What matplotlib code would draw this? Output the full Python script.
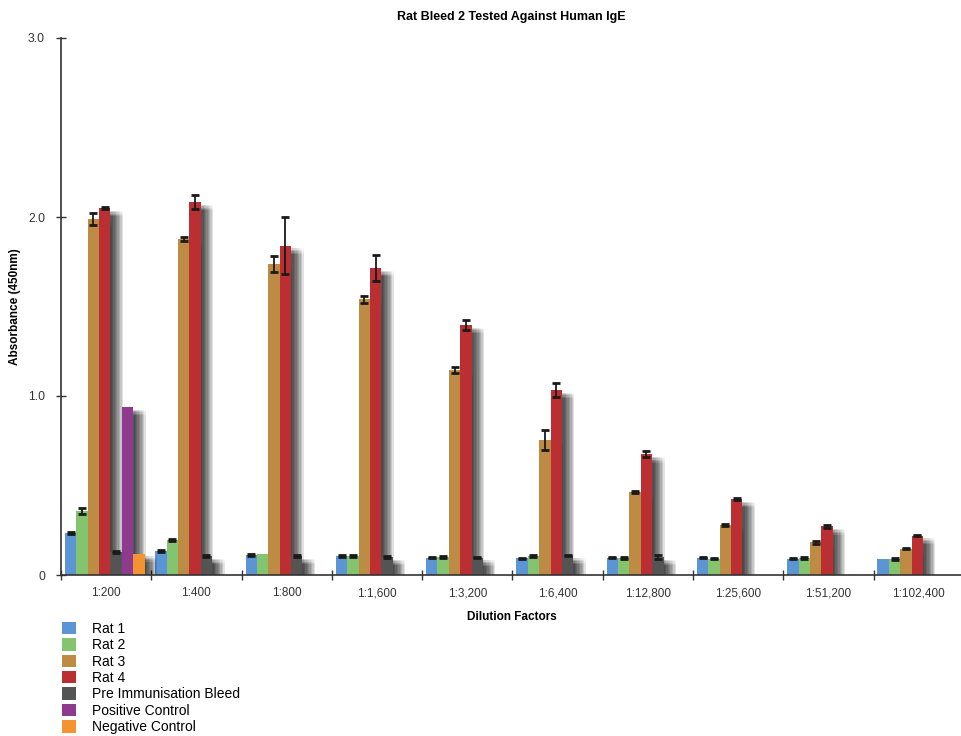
import numpy as np
import matplotlib
matplotlib.use("Agg")
import matplotlib.pyplot as plt
import matplotlib.patheffects as pe
from matplotlib.patches import Patch

plt.rcParams['font.family'] = ['Liberation Sans', 'DejaVu Sans']

dilutions = ["1:200", "1:400", "1:800", "1:1,600", "1:3,200", "1:6,400",
             "1:12,800", "1:25,600", "1:51,200", "1:102,400"]
series = ["Rat 1", "Rat 2", "Rat 3", "Rat 4", "Pre Immunisation Bleed",
          "Positive Control", "Negative Control"]
colors = ["#5b95d5", "#85c46f", "#be8b45", "#bb2e32", "#545454", "#8e3a8e", "#f39331"]

nan = np.nan
rat1 = [0.235, 0.134, 0.112, 0.106, 0.097, 0.093, 0.097, 0.097, 0.091, 0.092]
rat2 = [0.357, 0.196, 0.120, 0.105, 0.100, 0.104, 0.095, 0.091, 0.095, 0.090]
rat3 = [1.99, 1.877, 1.737, 1.54, 1.145, 0.754, 0.463, 0.279, 0.183, 0.147]
rat4 = [2.05, 2.084, 1.84, 1.715, 1.397, 1.034, 0.675, 0.424, 0.272, 0.220]
pre_bleed = [0.128, 0.106, 0.106, 0.100, 0.097, 0.108, 0.100, nan, nan, nan]
pos_ctrl = [0.94, nan, nan, nan, nan, nan, nan, nan, nan, nan]
neg_ctrl = [0.12, nan, nan, nan, nan, nan, nan, nan, nan, nan]

rat1_err = [0.005, 0.006, 0.005, 0.005, 0.004, 0.004, 0.004, 0.004, 0.004, nan]
rat2_err = [0.015, 0.005, nan, 0.005, 0.005, 0.005, 0.005, 0.004, 0.004, 0.004]
rat3_err = [0.035, 0.012, 0.045, 0.02, 0.017, 0.056, 0.004, 0.004, 0.008, 0.004]
rat4_err = [0.008, 0.04, 0.16, 0.07, 0.028, 0.039, 0.015, 0.004, 0.008, 0.004]
pre_err = [0.005, 0.004, 0.004, 0.004, 0.004, 0.004, 0.01, nan, nan, nan]
pos_err = [nan] * 10
neg_err = [nan] * 10

values = [rat1, rat2, rat3, rat4, pre_bleed, pos_ctrl, neg_ctrl]
errors = [rat1_err, rat2_err, rat3_err, rat4_err, pre_err, pos_err, neg_err]

# soft drop shadow built from stacked offset copies
shadow = [pe.SimplePatchShadow(offset=(dx, -dy), shadow_rgbFace="black", alpha=0.022)
          for dx in range(1, 10) for dy in range(2, 7)]
shadow.append(pe.Normal())

fig = plt.figure(figsize=(9.62, 7.36), dpi=100)
ax = fig.add_axes([61 / 962, 1 - 575 / 736, 1 - 61 / 962, (575 - 38) / 736])

x = np.arange(len(dilutions))
width = 0.126
for j, (vals, errs, col) in enumerate(zip(values, errors, colors)):
    pos = x - 0.393 + j * width
    bars = ax.bar(pos, vals, width=width, color=col, zorder=2)
    for b in bars:
        b.set_path_effects(shadow)
    ax.errorbar(pos, vals, yerr=errs, fmt="none", ecolor="#1a1a1a",
                elinewidth=1.3, capsize=3, capthick=2, zorder=3)

ax.set_xlim(-0.5, 9.48)
ax.set_ylim(0, 3.0)
ax.spines["top"].set_visible(False)
ax.spines["right"].set_visible(False)
for s in ("left", "bottom"):
    ax.spines[s].set_color("#333333")
    ax.spines[s].set_linewidth(1.2)

ax.set_yticks([0, 1, 2, 3])
ax.set_yticklabels(["0", "1.0", "2.0", "3.0"])
ax.tick_params(axis="y", direction="inout", length=7, width=1, pad=8,
               labelsize=8.8, colors="#333333")
ax.set_xticks(x)
ax.set_xticklabels(dilutions)
ax.set_xticks(np.arange(-0.5, 9.5, 1.0), minor=True)
ax.tick_params(axis="x", which="major", length=0, pad=9, labelsize=8.5, colors="#333333")
ax.tick_params(axis="x", which="minor", direction="inout", length=7, width=1, color="#333333")

ax.set_title("Rat Bleed 2 Tested Against Human IgE", fontsize=9, fontweight="bold", pad=13)
ax.set_ylabel("Absorbance (450nm)", fontsize=8.5, fontweight="bold")
ax.yaxis.set_label_coords(-40 / 901, 0.5)
ax.set_xlabel("Dilution Factors", fontsize=8.5, fontweight="bold", labelpad=8)

handles = [Patch(facecolor=c, label=s) for c, s in zip(colors, series)]
fig.legend(handles=handles, loc="upper left", bbox_to_anchor=(55 / 962, 1 - 615 / 736),
           frameon=False, fontsize=10, handlelength=1.0, handleheight=1.0,
           handletextpad=1.2, labelspacing=0.17, borderpad=0)

fig.savefig("out.png", dpi=100)
